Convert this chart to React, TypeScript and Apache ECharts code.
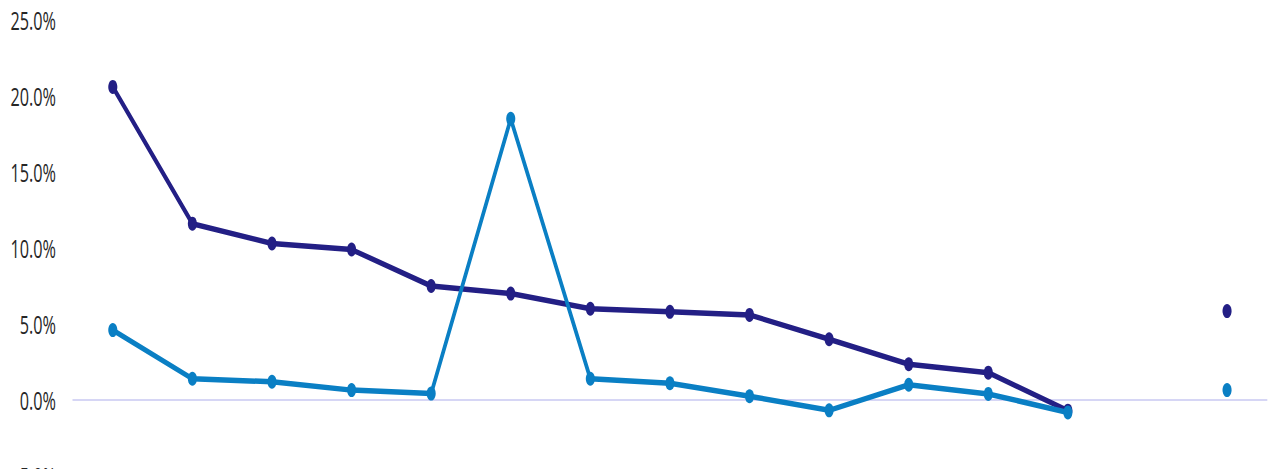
import React, { useEffect, useRef } from "react";
import * as echarts from "echarts";

const categories = ["C1", "C2", "C3", "C4", "C5", "C6", "C7", "C8", "C9", "C10", "C11", "C12", "C13", "C14", "C15"];
const seriesA = [20.6, 11.6, 10.3, 9.9, 7.5, 7.0, 6.0, 5.8, 5.6, 4.0, 2.35, 1.8, -0.7, null, 5.85];
const seriesB = [4.6, 1.4, 1.2, 0.65, 0.42, 18.5, 1.4, 1.1, 0.25, -0.68, 1.0, 0.4, -0.82, null, 0.65];
const yTicks = { min: -5, max: 25, interval: 5 };

const SX = 0.65;
const OUT_W = 1268;
const H = 480;
const W = OUT_W / SX;

export default function App() {
  const ref = useRef<HTMLDivElement>(null);
  useEffect(() => {
    if (!ref.current) return;
    const chart = echarts.init(ref.current, undefined, { renderer: "svg" });
    chart.setOption({
      animation: false,
      grid: { left: 73 / SX, right: 2, top: 20, bottom: H - 476, containLabel: false, outerBoundsMode: "none" },
      xAxis: {
        type: "category",
        data: categories,
        boundaryGap: true,
        axisLine: { show: true, onZero: true, lineStyle: { color: "#d6d6f5", width: 2 } },
        axisTick: { show: false },
        axisLabel: { show: false },
        splitLine: { show: false },
      },
      yAxis: {
        type: "value",
        min: yTicks.min,
        max: yTicks.max,
        interval: yTicks.interval,
        axisLine: { show: false },
        axisTick: { show: false },
        splitLine: { show: false },
        axisLabel: {
          margin: 17 / SX,
          fontFamily: "Open Sans",
          fontSize: 25,
          color: "#262626",
          formatter: (v: number) => v.toFixed(1) + "%",
        },
      },
      series: [
        {
          type: "line",
          data: seriesA,
          symbol: "circle",
          symbolSize: 14,
          showSymbol: true,
          connectNulls: false,
          lineStyle: { color: "#231f85", width: 5.5 },
          itemStyle: { color: "#231f85" },
          z: 2,
        },
        {
          type: "line",
          data: seriesB,
          symbol: "circle",
          symbolSize: 14,
          showSymbol: true,
          connectNulls: false,
          lineStyle: { color: "#0a7fc4", width: 5.5 },
          itemStyle: { color: "#0a7fc4" },
          z: 3,
        },
      ],
    });
    return () => chart.dispose();
  }, []);
  return (
    <div style={{ position: "absolute", left: 0, top: 0, width: OUT_W, height: H, overflow: "hidden", background: "#fff" }}>
      <div
        ref={ref}
        style={{ width: W, height: H, transform: `scaleX(${SX})`, transformOrigin: "0 0" }}
      />
    </div>
  );
}
